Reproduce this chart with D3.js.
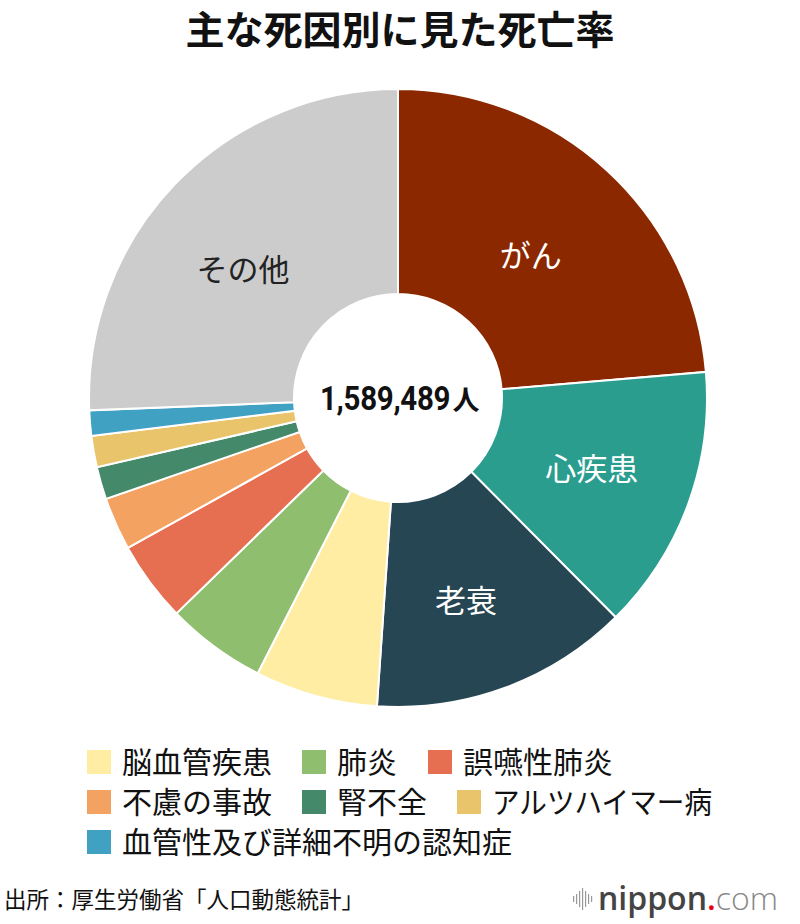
<!DOCTYPE html>
<html><head><meta charset="utf-8">
<script src="https://cdn.jsdelivr.net/npm/d3@7"></script>
<style>
body{margin:0;background:#fff;}
svg{display:block;}
</style></head>
<body>
<svg id="chart" width="800" height="924"></svg>
<script>
const title = "主な死因別に見た死亡率";
const categories = ["がん","心疾患","老衰","脳血管疾患","肺炎","誤嚥性肺炎","不慮の事故","腎不全","アルツハイマー病","血管性及び詳細不明の認知症","その他"];
const values = [376000,221000,215000,102000,83000,67000,44000,27000,26000,21000,407489];
const colors = ["#8b2800","#2a9d8f","#264653","#ffeda4","#8fbe6e","#e76f51","#f4a261","#44896a","#e9c46a","#41a1c3","#cccccc"];
const sliceLabels = ["がん","心疾患","老衰","その他"];
const sliceLabelColors = ["#fff","#fff","#fff","#222"];
const totalLabel = "1,589,489";
const totalUnit = "人";
const legendRows = [["脳血管疾患","肺炎","誤嚥性肺炎"],["不慮の事故","腎不全","アルツハイマー病"],["血管性及び詳細不明の認知症"]];
const source = "出所：厚生労働省「人口動態統計」";

const svg = d3.select("#chart");
const font = "'Noto Sans CJK JP','Noto Sans',sans-serif";
const cx = 398, cy = 398, R = 309, r0 = 104;

svg.append("text").attr("x",400).attr("y",44).attr("text-anchor","middle")
  .attr("font-family",font).attr("font-weight",700).attr("font-size",39).attr("fill","#111").text(title);

const data = categories.map((c,i)=>({name:c,value:values[i],color:colors[i]}));
const pie = d3.pie().value(d=>d.value).sort(null).startAngle(0).endAngle(2*Math.PI);
const arc = d3.arc().innerRadius(r0).outerRadius(R);
const g = svg.append("g").attr("transform",`translate(${cx},${cy})`);
const arcs = pie(data);
g.selectAll("path").data(arcs).join("path")
  .attr("d",arc).attr("fill",d=>d.data.color).attr("stroke","#fff").attr("stroke-width",2);

const labelOffsets = {"がん":[-7,10],"心疾患":[0,0],"老衰":[-4,10],"その他":[-6,15]};
g.selectAll("text.sl").data(arcs.filter(d=>sliceLabels.includes(d.data.name))).join("text")
  .attr("class","sl")
  .attr("transform",d=>{const c=arc.centroid(d);const o=labelOffsets[d.data.name];return `translate(${c[0]+o[0]},${c[1]+o[1]})`;})
  .attr("text-anchor","middle").attr("dy","0.35em")
  .attr("font-family",font).attr("font-size",31)
  .attr("fill",d=>sliceLabelColors[sliceLabels.indexOf(d.data.name)])
  .text(d=>d.data.name);

g.append("text").attr("transform","translate(-78,12) scale(1,1.15)")
  .attr("font-family","Roboto,'Liberation Sans',sans-serif").attr("font-weight",700).attr("font-size",29.5)
  .attr("letter-spacing",-0.3).attr("fill","#111").text(totalLabel);
g.append("text").attr("x",54.5).attr("y",12)
  .attr("font-family",font).attr("font-weight",700).attr("font-size",27).attr("fill","#111").text(totalUnit);

const colX = [87,302,428];
const colX2 = [87,302,457];
const rowY = [750,790,830];
legendRows.forEach((row,ri)=>{
  row.forEach((name,ci)=>{
    const i = categories.indexOf(name);
    const x = (ri===1?colX2:colX)[ci];
    svg.append("rect").attr("x",x).attr("y",rowY[ri]).attr("width",24).attr("height",24).attr("fill",colors[i]);
    const t = svg.append("text").attr("x",x+35).attr("y",rowY[ri]+23).attr("font-family",font)
      .attr("font-size",30).attr("fill","#111").text(name);
    if (name==="アルツハイマー病") t.attr("textLength",220).attr("lengthAdjust","spacingAndGlyphs");
  });
});

svg.append("text").attr("x",4).attr("y",908).attr("font-family",font).attr("font-size",22.5)
  .attr("fill","#111").text(source);

// logo
const lg = svg.append("g");
const bars=[6,10,16,22,16,10,6];
bars.forEach((h,i)=>{lg.append("rect").attr("x",573+i*3).attr("y",899-h/2).attr("width",1.2).attr("height",h).attr("fill","#999");});
const lt = lg.append("text").attr("x",598).attr("y",910).attr("font-family","'Open Sans',Roboto,sans-serif").attr("font-size",32);
lt.append("tspan").attr("font-weight",600).attr("fill","#444").text("nippon");
lt.append("tspan").attr("font-weight",600).attr("fill","#e60012").text(".");
lt.append("tspan").attr("font-weight",300).attr("fill","#888").text("com");
</script>
</body></html>
